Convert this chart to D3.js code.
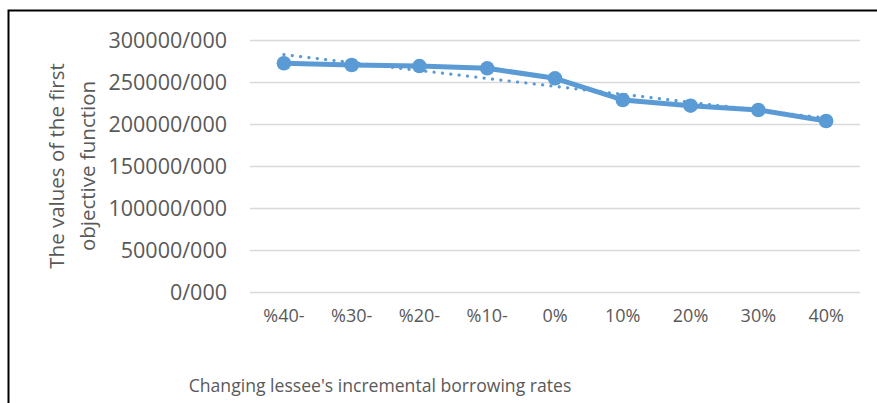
<!DOCTYPE html>
<html>
<head>
<meta charset="utf-8">
<script src="https://cdn.jsdelivr.net/npm/d3@7"></script>
<style>
  html, body { margin: 0; padding: 0; background: #fff; }
  svg { display: block; }
  text { font-family: "Open Sans", "Noto Sans", sans-serif; fill: #595959; }
</style>
</head>
<body>
<svg id="chart" width="877" height="403"></svg>
<script>
// Scenario categories (change in the lessee's incremental borrowing rate)
const categories = ["%40-", "%30-", "%20-", "%10-", "0%", "10%", "20%", "30%", "40%"];
// Value of the first objective function for each scenario
const objectiveValues = [272300, 270200, 269000, 266300, 254400, 228600, 221800, 216700, 203600];
// Y-axis tick values and their labels
const yTicks = [0, 50000, 100000, 150000, 200000, 250000, 300000];
const yTickLabels = ["0/000", "50000/000", "100000/000", "150000/000", "200000/000", "250000/000", "300000/000"];

const svg = d3.select("#chart");
const W = 877, H = 403;
const plot = { left: 250, right: 860, top: 40, bottom: 292 };
const color = "#5B9BD5";

// Chart frame (top and left edges fall inside the view)
svg.append("rect")
  .attr("x", 8.5).attr("y", 10.5)
  .attr("width", W + 20).attr("height", H + 20)
  .attr("fill", "none").attr("stroke", "#000").attr("stroke-width", 2);

const x = d3.scaleBand().domain(categories).range([plot.left, plot.right]);
const y = d3.scaleLinear().domain([0, 300000]).range([plot.bottom, plot.top]);
const cx = d => x(d) + x.bandwidth() / 2;

// Horizontal gridlines
svg.append("g")
  .attr("transform", `translate(${plot.left},0)`)
  .call(d3.axisLeft(y).tickValues(yTicks).tickSize(-(plot.right - plot.left)).tickFormat(""))
  .call(g => g.select(".domain").remove())
  .call(g => g.selectAll("line").attr("stroke", "#d9d9d9").attr("stroke-width", 1.5));

// Y tick labels
svg.append("g")
  .selectAll("text").data(yTicks).join("text")
  .attr("x", 227).attr("y", d => y(d)).attr("dy", "0.35em")
  .attr("text-anchor", "end").style("font-size", "21.5px")
  .text((d, i) => yTickLabels[i]);

// X tick labels
svg.append("g")
  .selectAll("text").data(categories).join("text")
  .attr("x", d => cx(d)).attr("y", 322)
  .attr("text-anchor", "middle").style("font-size", "18px")
  .text(d => d);

// Linear trendline (least squares over the scenario index)
const n = objectiveValues.length;
const xs = d3.range(n);
const mx = d3.mean(xs), my = d3.mean(objectiveValues);
const slope = d3.sum(xs, i => (i - mx) * (objectiveValues[i] - my)) / d3.sum(xs, i => (i - mx) ** 2);
const intercept = my - slope * mx;
svg.append("line")
  .attr("x1", cx(categories[0])).attr("y1", y(intercept))
  .attr("x2", cx(categories[n - 1])).attr("y2", y(intercept + slope * (n - 1)))
  .attr("stroke", color).attr("stroke-width", 3.2)
  .attr("stroke-linecap", "round").attr("stroke-dasharray", "0.1 8.3");

// Data line
const line = d3.line().x((d, i) => cx(categories[i])).y(d => y(d));
svg.append("path")
  .datum(objectiveValues)
  .attr("d", line)
  .attr("fill", "none").attr("stroke", color).attr("stroke-width", 5)
  .attr("stroke-linejoin", "round");

// Markers
svg.append("g")
  .selectAll("circle").data(objectiveValues).join("circle")
  .attr("cx", (d, i) => cx(categories[i])).attr("cy", d => y(d))
  .attr("r", 7.3).attr("fill", color);

// Axis titles
svg.append("text")
  .attr("x", 380).attr("y", 392)
  .attr("text-anchor", "middle").style("font-size", "17.6px")
  .text("Changing lessee's incremental borrowing rates");

const yTitle = svg.append("text")
  .attr("transform", "translate(0,166) rotate(-90)")
  .attr("text-anchor", "middle").style("font-size", "20.5px");
yTitle.append("tspan").attr("x", 0).attr("y", 64).text("The values of the first");
yTitle.append("tspan").attr("x", 0).attr("y", 95).text("objective function");
</script>
</body>
</html>
